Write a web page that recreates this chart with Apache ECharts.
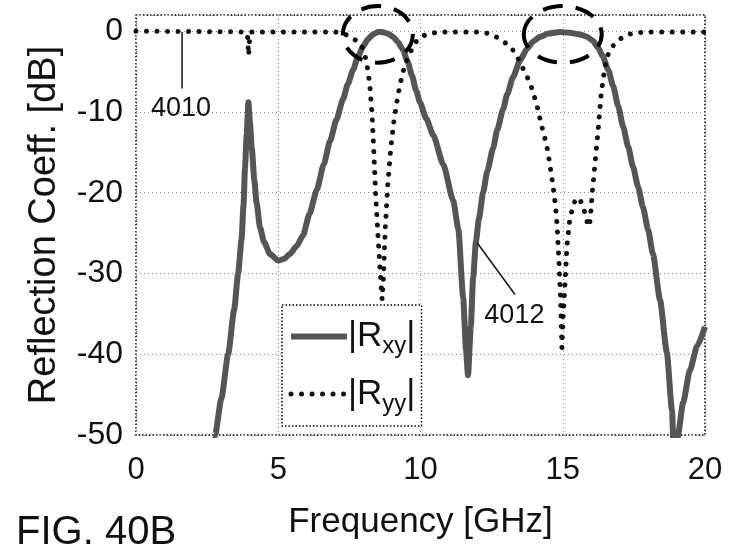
<!DOCTYPE html>
<html>
<head>
<meta charset="utf-8">
<script src="https://cdn.jsdelivr.net/npm/echarts@6/dist/echarts.min.js"></script>
<style>
  html, body { margin: 0; padding: 0; background: #fff; }
  #chart { width: 730px; height: 555px; }
</style>
</head>
<body>
<div id="chart"></div>
<script>
// Frequency axis ticks (GHz) and reflection axis ticks (dB)
const xTicks = [0, 5, 10, 15, 20];
const yTicks = [-50, -40, -30, -20, -10, 0];

// |Rxy| cross-polarised reflection, dB
const freqRxy = [
  2.5, 2.78, 3.0, 3.24, 3.45, 3.59, 3.71, 3.78, 3.83, 3.89,
  3.95, 4.01, 4.07, 4.16, 4.24, 4.36, 4.5, 4.71, 5.0, 5.2,
  5.41, 5.65, 5.87, 6.1, 6.36, 6.6, 6.82, 7.05, 7.28, 7.45,
  7.63, 7.8, 7.98, 8.15, 8.33, 8.5, 8.65, 8.85, 9.03, 9.2,
  9.38, 9.55, 9.7, 9.85, 9.98, 10.2, 10.45, 10.8, 11.15, 11.33,
  11.5, 11.6, 11.67, 11.77, 11.85, 11.95, 12.05, 12.2, 12.35, 12.55,
  12.7, 12.9, 13.05, 13.25, 13.5, 13.74, 13.95, 14.2, 14.5, 14.9,
  15.25, 15.6, 15.85, 16.06, 16.25, 16.4, 16.6, 16.77, 16.95, 17.12,
  17.3, 17.47, 17.65, 17.82, 18.0, 18.17, 18.42, 18.66, 18.84, 18.97,
  19.05, 19.23, 19.47, 19.72, 20
];
const rxy = [
  -58, -50, -45.5, -40, -34.5, -30, -25.8, -21.5, -17, -12.8,
  -8.8, -11.5, -14.5, -18.5, -21.3, -24.3, -26.1, -27.6, -28.4, -28.2,
  -27.6, -26.6, -25.3, -22.6, -19.6, -16.5, -13.6, -10.9, -8.4, -6.5,
  -4.8, -3.2, -1.9, -1.0, -0.4, -0.1, -0.1, -0.3, -0.7, -1.3,
  -2.3, -3.8, -5.5, -7.4, -8.8, -10.8, -12.9, -16.5, -21, -24.5,
  -33, -39.5, -42.6, -36.5, -30.5, -26, -23.3, -20, -17.3, -14.5,
  -12.2, -9.7, -7.8, -5.7, -3.6, -2.2, -1.3, -0.7, -0.3, -0.1,
  -0.2, -0.4, -0.7, -1.2, -2.1, -3.1, -4.8, -6.8, -9.3, -11.8,
  -14.3, -16.8, -19.3, -21.8, -24.6, -27.6, -33.3, -39.8, -47, -62,
  -50, -46, -42, -39, -36.6
];

// |Ryy| co-polarised reflection, dB
const freqRyy = [
  0, 3.85, 3.92, 3.96, 4.0, 4.06, 7.0, 7.3, 7.55, 7.8,
  7.95, 8.05, 8.15, 8.22, 8.3, 8.36, 8.42, 8.5, 8.58, 8.65,
  8.7, 8.76, 8.85, 8.95, 9.05, 9.15, 9.28, 9.4, 9.55, 9.7,
  9.85, 10.0, 10.3, 10.7, 12.1, 12.4, 12.6, 12.8, 13.0, 13.15,
  13.35, 13.5, 13.7, 13.85, 14.0, 14.1, 14.25, 14.44, 14.55, 14.66,
  14.74, 14.8, 14.86, 14.92, 14.97, 15.02, 15.08, 15.15, 15.25, 15.4,
  15.55, 15.7, 15.8, 15.9, 15.96, 16.05, 16.15, 16.25, 16.35, 16.45,
  16.55, 16.7, 16.85, 17.0, 17.25, 17.5, 18.0, 20
];
const ryy = [
  0, -0.1, -0.6, -3.0, -0.6, -0.1, -0.1, -0.3, -0.7, -1.3,
  -2.0, -3.0, -4.8, -6.8, -10.5, -15, -20, -25, -29.5, -33.2,
  -30.5, -24.5, -19, -14.7, -11.5, -9.2, -6.6, -4.9, -3.3, -2.2,
  -1.3, -0.7, -0.3, -0.1, -0.1, -0.3, -0.6, -1.0, -1.5, -1.9,
  -2.8, -3.9, -5.3, -6.4, -8.1, -9.3, -11.6, -14.2, -16.6, -19.2,
  -21.5, -24, -28, -33, -39.2, -35, -31.2, -26.5, -23.2, -21.2,
  -20.6, -21.5, -22.8, -24.2, -23.5, -19.5, -15.8, -12, -7.8, -5.2,
  -3.2, -2.1, -1.5, -1.0, -0.5, -0.2, -0.1, -0.1
];

// Highlighted pass bands: centre (GHz, dB) and half-widths (GHz, dB)
const bandMarks = [
  { f: 8.5, db: -0.4, df: 1.23, ddb: 3.5 },
  { f: 15.0, db: -0.4, df: 1.37, ddb: 3.5 }
];

// Reference numerals: text position and leader line ends (GHz, dB)
const callouts = [
  { text: '4010', at: [1.58, -9.6], from: [1.62, -0.1], to: [1.62, -7.1] },
  { text: '4012', at: [13.3, -35.2], from: [11.99, -26.2], to: [13.32, -32.6] }
];

const FONT = '"Liberation Sans", Arial, sans-serif';
const RXY_COLOR = '#555';
const RYY_COLOR = '#111';
const pairs = (xs, ys) => xs.map((x, i) => [x, ys[i]]);

const chart = echarts.init(document.getElementById('chart'), null, { renderer: 'canvas' });

const rxyLine = { color: RXY_COLOR, width: 6, join: 'round' };
const ryyLine = { color: RYY_COLOR, width: 5, type: [0.01, 10.5], cap: 'round' };

chart.setOption({
  animation: false,
  backgroundColor: '#fff',
  title: {
    text: 'FIG. 40B',
    left: 11, top: 508,
    textStyle: { fontFamily: FONT, fontSize: 40, fontWeight: 'normal', color: '#111' }
  },
  grid: {
    left: 136, right: 25, top: 15, bottom: 120,
    show: true,
    borderColor: '#000', borderWidth: 1.5, borderType: [1.5, 2]
  },
  legend: {
    orient: 'vertical',
    left: 282, top: 305,
    padding: [14, 6, 10, 6],
    itemGap: 18,
    itemWidth: 56, itemHeight: 14,
    borderColor: '#000', borderWidth: 1.5, borderType: [1.5, 2],
    backgroundColor: '#fff',
    itemStyle: { opacity: 0 },
    data: [
      { name: 'Rxy', lineStyle: rxyLine },
      { name: 'Ryy', lineStyle: ryyLine }
    ],
    formatter: name => name === 'Rxy' ? '|R{s|xy}|' : '|R{s|yy}|',
    textStyle: {
      fontFamily: FONT, fontSize: 35, color: '#111', padding: [0, 0, 0, -4],
      rich: { s: { fontFamily: FONT, fontSize: 24, color: '#111', padding: [20, 0, 0, 0] } }
    }
  },
  xAxis: {
    type: 'value',
    min: xTicks[0], max: xTicks[xTicks.length - 1], interval: 5,
    name: 'Frequency [GHz]',
    nameLocation: 'middle', nameGap: 70,
    nameTextStyle: { fontFamily: FONT, fontSize: 35, color: '#111' },
    axisLine: { show: false },
    axisTick: { show: false },
    axisLabel: { fontFamily: FONT, fontSize: 31, color: '#111', margin: 20 },
    splitLine: { show: true, lineStyle: { color: '#888', width: 1, type: [1, 3] } }
  },
  yAxis: {
    type: 'value',
    min: yTicks[0], max: 2, interval: 10,
    name: 'Reflection Coeff. [dB]',
    nameLocation: 'middle', nameGap: 72,
    nameTextStyle: { fontFamily: FONT, fontSize: 38, color: '#111' },
    axisLine: { show: false },
    axisTick: { show: false },
    axisLabel: { fontFamily: FONT, fontSize: 32, color: '#111', margin: 13, showMaxLabel: false },
    splitLine: { show: true, lineStyle: { color: '#888', width: 1, type: [1, 3] } }
  },
  series: [
    {
      name: 'Rxy',
      type: 'line',
      data: pairs(freqRxy, rxy),
      symbol: 'none',
      smooth: 0.2,
      smoothMonotone: 'x',
      clip: true,
      lineStyle: rxyLine,
      itemStyle: { color: RXY_COLOR },
      z: 2
    },
    {
      name: 'Ryy',
      type: 'line',
      data: pairs(freqRyy, ryy),
      symbol: 'none',
      clip: true,
      lineStyle: ryyLine,
      itemStyle: { color: RYY_COLOR },
      z: 3
    }
  ]
});

// Annotation layer placed through the chart's own coordinate system
function px(pt) { return chart.convertToPixel({ gridIndex: 0 }, pt); }

const graphics = [];
bandMarks.forEach(b => {
  const c = px([b.f, b.db]);
  const e = px([b.f + b.df, b.db - b.ddb]);
  graphics.push({
    type: 'ellipse',
    shape: { cx: c[0], cy: c[1], rx: Math.abs(e[0] - c[0]), ry: Math.abs(e[1] - c[1]) },
    style: { fill: 'none', stroke: '#000', lineWidth: 4, lineDash: [20, 13] },
    z: 100
  });
});
callouts.forEach(c => {
  const a = px(c.from), b = px(c.to), t = px(c.at);
  graphics.push({
    type: 'line',
    shape: { x1: a[0], y1: a[1], x2: b[0], y2: b[1] },
    style: { stroke: '#111', lineWidth: 1.5 },
    z: 100
  });
  graphics.push({
    type: 'text',
    x: t[0], y: t[1],
    style: {
      text: c.text, fill: '#111', font: '27px ' + FONT,
      align: 'center', verticalAlign: 'middle'
    },
    z: 100
  });
});
chart.setOption({ graphic: graphics });
</script>
</body>
</html>
